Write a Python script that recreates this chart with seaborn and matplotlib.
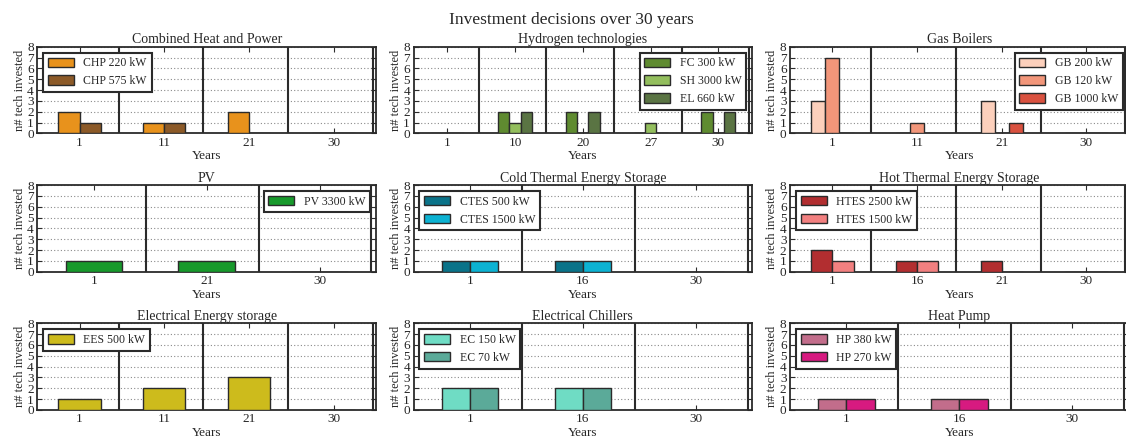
import matplotlib
matplotlib.use("Agg")
import matplotlib.pyplot as plt
from matplotlib.patches import Patch
import seaborn as sns
import pandas as pd

# ---- data: investments per year for each technology family ----
chp_years = ["1", "11", "21", "30"]
chp_220 = [2, 1, 2, 0]
chp_575 = [1, 1, 0, 0]

h2_years = ["1", "10", "20", "27", "30"]
fc_300 = [0, 2, 2, 0, 2]
sh_3000 = [0, 1, 0, 1, 0]
el_660 = [0, 2, 2, 0, 2]

gb_years = ["1", "11", "21", "30"]
gb_200 = [3, 0, 3, 0]
gb_120 = [7, 1, 0, 0]
gb_1000 = [0, 0, 1, 0]

pv_years = ["1", "21", "30"]
pv_3300 = [1, 1, 0]

ctes_years = ["1", "16", "30"]
ctes_500 = [1, 1, 0]
ctes_1500 = [1, 1, 0]

htes_years = ["1", "16", "21", "30"]
htes_2500 = [2, 1, 1, 0]
htes_1500 = [1, 1, 0, 0]

ees_years = ["1", "11", "21", "30"]
ees_500 = [1, 2, 3, 0]

ec_years = ["1", "16", "30"]
ec_150 = [2, 2, 0]
ec_70 = [2, 2, 0]

hp_years = ["1", "16", "30"]
hp_380 = [1, 1, 0]
hp_270 = [1, 1, 0]

colors = {
    "CHP 220 kW": "#E8921C", "CHP 575 kW": "#8C5A28",
    "FC 300 kW": "#5F8B30", "SH 3000 kW": "#93BE5D", "EL 660 kW": "#5A7443",
    "GB 200 kW": "#FCD0BC", "GB 120 kW": "#F2967A", "GB 1000 kW": "#D9513F",
    "PV 3300 kW": "#17992B",
    "CTES 500 kW": "#0A7389", "CTES 1500 kW": "#0CB2D2",
    "HTES 2500 kW": "#B22E30", "HTES 1500 kW": "#F28080",
    "EES 500 kW": "#CDBB1C",
    "EC 150 kW": "#6FDCC4", "EC 70 kW": "#5BAA99",
    "HP 380 kW": "#C26D8B", "HP 270 kW": "#D71A80",
}

panels = [
    ("Combined Heat and Power", chp_years,
     {"CHP 220 kW": chp_220, "CHP 575 kW": chp_575}, "upper left"),
    ("Hydrogen technologies", h2_years,
     {"FC 300 kW": fc_300, "SH 3000 kW": sh_3000, "EL 660 kW": el_660}, "upper right"),
    ("Gas Boilers", gb_years,
     {"GB 200 kW": gb_200, "GB 120 kW": gb_120, "GB 1000 kW": gb_1000}, "upper right"),
    ("PV", pv_years, {"PV 3300 kW": pv_3300}, "upper right"),
    ("Cold Thermal Energy Storage", ctes_years,
     {"CTES 500 kW": ctes_500, "CTES 1500 kW": ctes_1500}, "upper left"),
    ("Hot Thermal Energy Storage", htes_years,
     {"HTES 2500 kW": htes_2500, "HTES 1500 kW": htes_1500}, "upper left"),
    ("Electrical Energy storage", ees_years, {"EES 500 kW": ees_500}, "upper left"),
    ("Electrical Chillers", ec_years,
     {"EC 150 kW": ec_150, "EC 70 kW": ec_70}, "upper left"),
    ("Heat Pump", hp_years,
     {"HP 380 kW": hp_380, "HP 270 kW": hp_270}, "upper left"),
]

sns.set_theme(style="white")
plt.rcParams["font.family"] = ["Liberation Serif", "DejaVu Serif"]

W, H = 1126, 443
fig = plt.figure(figsize=(W / 100, H / 100), dpi=100)
fig.patch.set_facecolor("white")

col_left = [37.3, 413.5, 790.0]
row_top = [46.7, 185.0, 323.3]
ax_w, ax_h = 338.7, 86.7
edge = "#2b2b2b"

for k, (title, years, series, loc) in enumerate(panels):
    r, c = divmod(k, 3)
    ax = fig.add_axes([col_left[c] / W, 1 - (row_top[r] + ax_h) / H, ax_w / W, ax_h / H])
    names = list(series.keys())
    rows = []
    for name, vals in series.items():
        for y, v in zip(years, vals):
            rows.append({"Year": y, "Tech": name, "Count": v})
    df = pd.DataFrame(rows)
    sns.barplot(data=df, x="Year", y="Count", hue="Tech", order=years,
                hue_order=names, palette=colors, width=0.5, errorbar=None,
                saturation=1, edgecolor=edge, linewidth=1.0, ax=ax,
                legend=False, zorder=3)
    n = len(years)
    ax.set_xlim(-0.5, n - 0.5)
    ax.set_ylim(0, 8)
    ax.set_yticks(range(9))
    # separators between year groups
    for i in range(n):
        ax.axvline(i + 0.46, color=edge, lw=1.5, zorder=4)
    ax.yaxis.grid(True, linestyle=(0, (1, 2)), color="#8a8a8a", linewidth=0.8)
    ax.xaxis.grid(False)
    ax.set_axisbelow(True)
    for s in ax.spines.values():
        s.set_color(edge)
        s.set_linewidth(1.3)
        s.set_visible(True)
    ax.tick_params(direction="in", top=True, right=True, bottom=True, left=True,
                   length=3.5, width=0.8, color=edge, labelsize=9.5, pad=2.5)
    ax.set_title(title, fontsize=10, pad=2.5)
    ax.set_xlabel("Years", fontsize=9.5, labelpad=1.0)
    ax.set_ylabel("n# tech invested", fontsize=9, labelpad=1.0)
    handles = [Patch(facecolor=colors[nm], edgecolor=edge, linewidth=1.0, label=nm)
               for nm in names]
    leg = ax.legend(handles=handles, loc=loc, fontsize=8.5, frameon=True,
                    fancybox=False, framealpha=1, borderpad=0.4, labelspacing=0.5,
                    handlelength=2.2, handleheight=0.85, handletextpad=0.8,
                    borderaxespad=0.5)
    leg.get_frame().set_edgecolor(edge)
    leg.get_frame().set_linewidth(1.5)
    leg.set_zorder(10)

fig.text(571 / W, 1 - 19.5 / H, "Investment decisions over 30 years",
         ha="center", va="center", fontsize=12.5)

fig.savefig("out.png", dpi=100, facecolor="white")
